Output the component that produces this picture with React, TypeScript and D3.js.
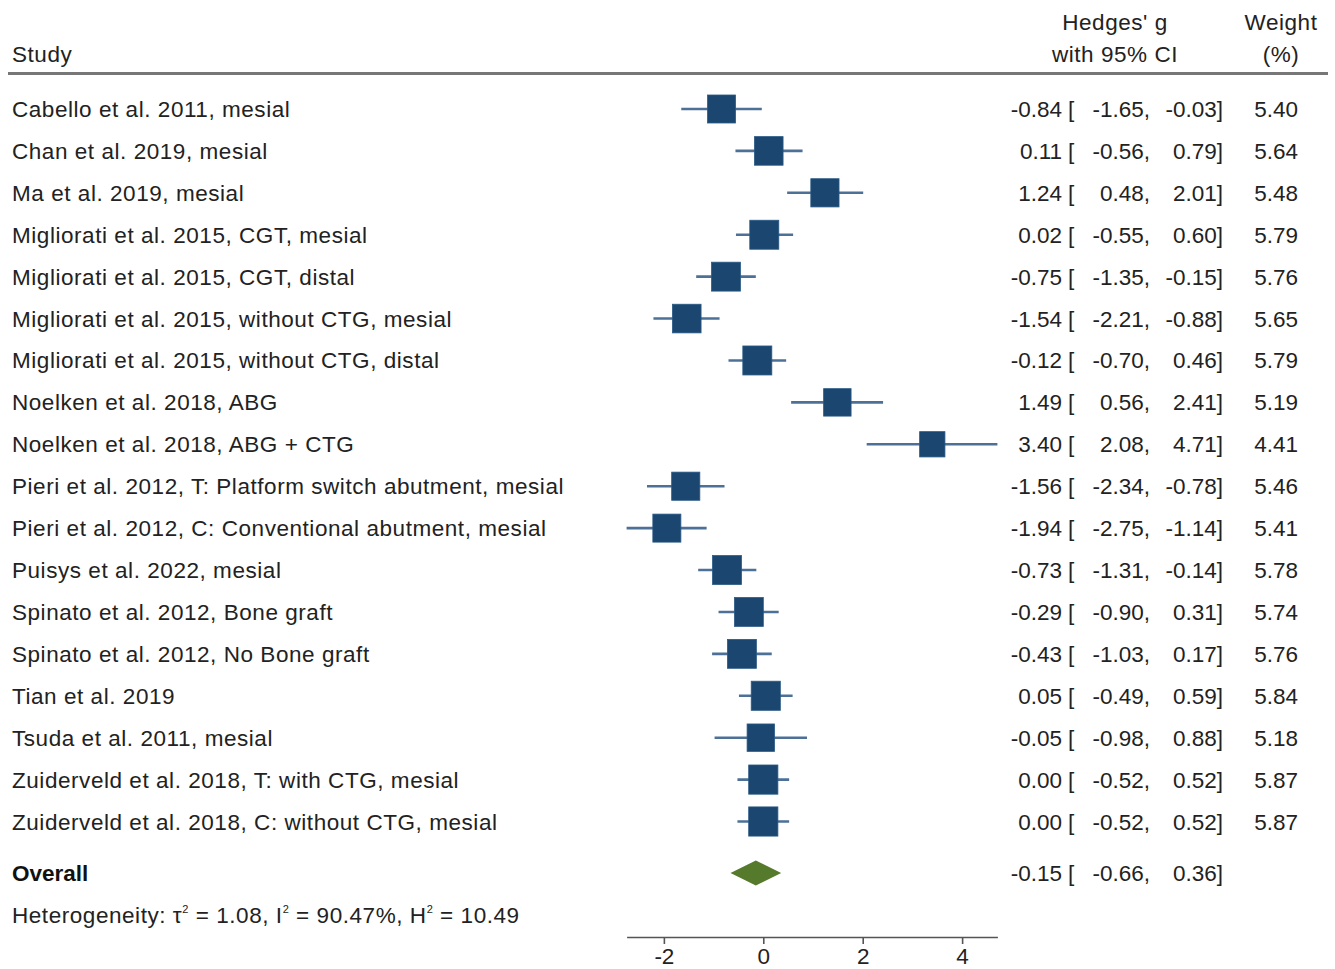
import React, { useEffect, useRef } from 'react';
import * as d3 from 'd3';

const studies = [
  'Cabello et al. 2011, mesial',
  'Chan et al. 2019, mesial',
  'Ma et al. 2019, mesial',
  'Migliorati et al. 2015, CGT, mesial',
  'Migliorati et al. 2015, CGT, distal',
  'Migliorati et al. 2015, without CTG, mesial',
  'Migliorati et al. 2015, without CTG, distal',
  'Noelken et al. 2018, ABG',
  'Noelken et al. 2018, ABG + CTG',
  'Pieri et al. 2012, T: Platform switch abutment, mesial',
  'Pieri et al. 2012, C: Conventional abutment, mesial',
  'Puisys et al. 2022, mesial',
  'Spinato et al. 2012, Bone graft',
  'Spinato et al. 2012, No Bone graft',
  'Tian et al. 2019',
  'Tsuda et al. 2011, mesial',
  'Zuiderveld et al. 2018, T: with CTG, mesial',
  'Zuiderveld et al. 2018, C: without CTG, mesial',
];
const estimates = [-0.84, 0.11, 1.24, 0.02, -0.75, -1.54, -0.12, 1.49, 3.4, -1.56, -1.94, -0.73, -0.29, -0.43, 0.05, -0.05, 0.0, 0.0];
const lowers = [-1.65, -0.56, 0.48, -0.55, -1.35, -2.21, -0.7, 0.56, 2.08, -2.34, -2.75, -1.31, -0.9, -1.03, -0.49, -0.98, -0.52, -0.52];
const uppers = [-0.03, 0.79, 2.01, 0.6, -0.15, -0.88, 0.46, 2.41, 4.71, -0.78, -1.14, -0.14, 0.31, 0.17, 0.59, 0.88, 0.52, 0.52];
const weights = [5.4, 5.64, 5.48, 5.79, 5.76, 5.65, 5.79, 5.19, 4.41, 5.46, 5.41, 5.78, 5.74, 5.76, 5.84, 5.18, 5.87, 5.87];
const overall = { est: -0.15, lo: -0.66, hi: 0.36 };
const axisTicks = [-2, 0, 2, 4];

const FONT = '"Liberation Sans", Arial, Helvetica, sans-serif';
const TXT = '#222';
const FS = 22.5;
const LS = 0.55;

const W = 1335;
const H = 969;

// stata style: plain hyphen for negatives
const fmt = (v: number) => v.toFixed(2).replace('-0.00', '0.00');

export default function App() {
  const axisRef = useRef<SVGGElement>(null);

  const x = d3.scaleLinear().domain([-2.75, 4.71]).range([626.6, 997.4]);
  const y = d3.scaleLinear().domain([0, studies.length - 1]).range([109, 821.5]);
  const size = d3.scaleSqrt().domain([0, 5.4]).range([0, 28]);
  const overallY = 873;
  const axisY = 937;

  useEffect(() => {
    if (!axisRef.current) return;
    const g = d3.select(axisRef.current);
    g.selectAll('*').remove();
    g.call(d3.axisBottom(x).tickValues(axisTicks).tickSize(7).tickSizeOuter(0).tickFormat((d) => String(d)));
    g.select('.domain').attr('stroke', '#555').attr('stroke-width', 1.6);
    g.selectAll('.tick line').attr('stroke', '#555').attr('stroke-width', 1.6);
    g.selectAll('.tick text')
      .attr('font-family', FONT)
      .attr('font-size', FS)
      .attr('fill', TXT)
      .attr('y', 11)
      .attr('dy', '0.71em');
  }, []);

  const numCols = (est: number, lo: number, hi: number, cy: number, key: string) => (
    <g key={key} fontFamily={FONT} fontSize={FS} fill={TXT}>
      <text x={1062} y={cy + 8} textAnchor="end">{fmt(est)}</text>
      <text x={1068} y={cy + 8}>[</text>
      <text x={1150} y={cy + 8} textAnchor="end">{fmt(lo)},</text>
      <text x={1223} y={cy + 8} textAnchor="end">{fmt(hi)}]</text>
    </g>
  );

  return (
    <svg width={W} height={H} style={{ position: 'absolute', left: 0, top: 0, background: '#fff' }}>
      {/* header */}
      <g fontFamily={FONT} fontSize={FS} fill={TXT} letterSpacing={LS}>
        <text x={12} y={62}>Study</text>
        <text x={1115} y={30} textAnchor="middle">Hedges' g</text>
        <text x={1115} y={62} textAnchor="middle">with 95% CI</text>
        <text x={1281} y={30} textAnchor="middle">Weight</text>
        <text x={1281} y={62} textAnchor="middle">(%)</text>
      </g>
      <line x1={8} x2={1328} y1={73.5} y2={73.5} stroke="#777" strokeWidth={3} />

      {/* studies */}
      {studies.map((s, i) => {
        const cy = y(i);
        const sz = size(weights[i]);
        return (
          <g key={s}>
            <text x={12} y={cy + 8} fontFamily={FONT} fontSize={FS} letterSpacing={LS} fill={TXT}>{s}</text>
            <line x1={x(lowers[i])} x2={x(uppers[i])} y1={cy} y2={cy} stroke="#4d7096" strokeWidth={2.6} />
            <rect x={x(estimates[i]) - sz / 2} y={cy - sz / 2} width={sz} height={sz} fill="#1a4670" stroke="#2a5a85" strokeWidth={0.8} />
            {numCols(estimates[i], lowers[i], uppers[i], cy, 'n' + i)}
            <text x={1298} y={cy + 8} textAnchor="end" fontFamily={FONT} fontSize={FS} fill={TXT}>{fmt(weights[i])}</text>
          </g>
        );
      })}

      {/* overall */}
      <text x={12} y={overallY + 8} fontFamily={FONT} fontSize={FS} fontWeight="bold" fill="#111">Overall</text>
      <path
        d={`M${x(overall.lo)},${overallY} L${x(overall.est)},${overallY - 12.5} L${x(overall.hi)},${overallY} L${x(overall.est)},${overallY + 12.5} Z`}
        fill="#557a2c"
      />
      {numCols(overall.est, overall.lo, overall.hi, overallY, 'overall')}

      <text x={12} y={923} fontFamily={FONT} fontSize={FS} letterSpacing={LS} fill={TXT}>
        Heterogeneity: τ<tspan fontSize={11} dy={-10}>2</tspan>
        <tspan dy={10}> = 1.08, I</tspan><tspan fontSize={11} dy={-10}>2</tspan>
        <tspan dy={10}> = 90.47%, H</tspan><tspan fontSize={11} dy={-10}>2</tspan>
        <tspan dy={10}> = 10.49</tspan>
      </text>

      <g ref={axisRef} transform={`translate(0,${axisY})`} />
    </svg>
  );
}
